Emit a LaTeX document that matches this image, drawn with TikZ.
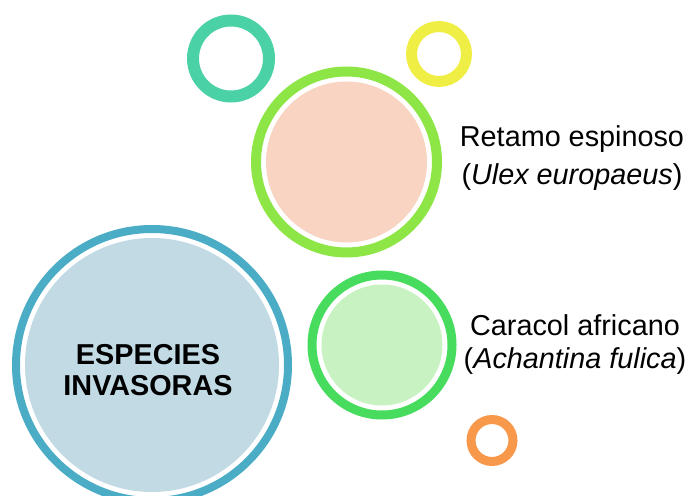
\documentclass[tikz,border=0pt]{standalone}
\usepackage{fontspec}
\setmainfont{Liberation Sans}
\definecolor{cblue}{HTML}{4BACC6}
\definecolor{cbluefill}{HTML}{C1DAE4}
\definecolor{cteal}{HTML}{4BD1A6}
\definecolor{cyellow}{HTML}{EEEE44}
\definecolor{clime}{HTML}{8EE646}
\definecolor{cpeach}{HTML}{F9D4C3}
\definecolor{cgreen}{HTML}{47DC5D}
\definecolor{cgreenfill}{HTML}{C9F2C2}
\definecolor{corange}{HTML}{F7984A}
\tikzset{
  ringc/.style={circle, inner sep=0pt, outer sep=0pt},
  labeltext/.style={align=center, inner sep=0pt, font=\fontsize{21.6pt}{24.75pt}\selectfont},
}
\begin{document}
\begin{tikzpicture}[x=0.75pt,y=-0.75pt]
\useasboundingbox (0,0) rectangle (689,496);
% big blue circle
\node[ringc, draw=cblue, line width=6pt, minimum size=204pt] (inv) at (152,365) {};
\node[ringc, fill=cbluefill, minimum size=190.5pt] (invfill) at (152,365) {};
\node[align=center, inner sep=0pt, anchor=base, font=\fontsize{21.6pt}{23.25pt}\selectfont\bfseries] (invt) at (148,395) {ESPECIES\\INVASORAS};
% small rings
\node[ringc, draw=cteal, line width=9pt, minimum size=57pt] (teal) at (231,58.5) {};
\node[ringc, draw=cyellow, line width=8.25pt, minimum size=41.25pt] (yellow) at (439,54) {};
\node[ringc, draw=corange, line width=6.75pt, minimum size=31.5pt] (orange) at (492,440.5) {};
% retamo circle
\node[ringc, draw=clime, line width=7.5pt, minimum size=135.75pt] (ret) at (346.5,162) {};
\node[ringc, fill=cpeach, minimum size=120.75pt] (retfill) at (346.5,162) {};
% caracol circle
\node[ringc, draw=cgreen, line width=6.75pt, minimum size=105pt] (car) at (382,345) {};
\node[ringc, fill=cgreenfill, minimum size=90.75pt] (carfill) at (382,345) {};
% labels
\node[labeltext, anchor=base] (rett) at (572,184) {Retamo espinoso\\[3.75pt](\textit{Ulex europaeus})};
\node[labeltext, anchor=base] (cart) at (575,368) {Caracol africano\\(\textit{Achantina fulica})};
\end{tikzpicture}
\end{document}
